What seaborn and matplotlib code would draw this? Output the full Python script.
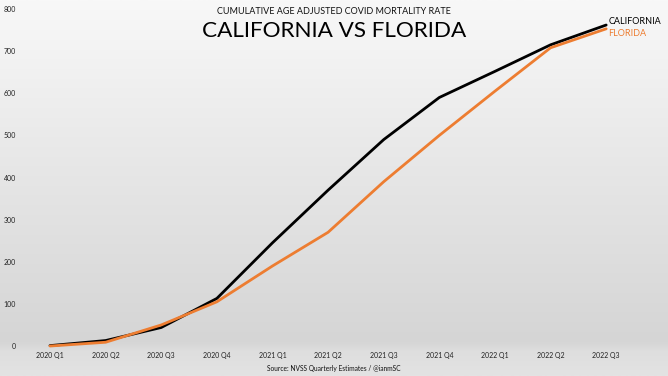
import numpy as np
import pandas as pd
import matplotlib
matplotlib.use("Agg")
import matplotlib.pyplot as plt
import seaborn as sns
from matplotlib.colors import LinearSegmentedColormap

quarters = ["2020 Q1", "2020 Q2", "2020 Q3", "2020 Q4", "2021 Q1", "2021 Q2",
            "2021 Q3", "2021 Q4", "2022 Q1", "2022 Q2", "2022 Q3"]
california = [1, 13, 44, 113, 245, 370, 490, 590, 652, 715, 762]
florida = [0, 9, 50, 105, 190, 270, 390, 500, 605, 708, 753]
y_ticks = [0, 100, 200, 300, 400, 500, 600, 700, 800]

df = pd.DataFrame({
    "q": list(range(len(quarters))) * 2,
    "rate": california + florida,
    "state": ["CALIFORNIA"] * len(quarters) + ["FLORIDA"] * len(quarters),
})

sns.set_theme(style="white")
plt.rcParams["font.family"] = ["Lato", "DejaVu Sans"]

W, H = 668, 376
fig = plt.figure(figsize=(W / 100, H / 100), dpi=100)

# background gradient
bg = fig.add_axes([0, 0, 1, 1], zorder=0)
cmap = LinearSegmentedColormap.from_list(
    "bg", [(0, "#f8f8f8"), (0.91, "#d5d5d5"), (0.935, "#dedede"), (1, "#e3e3e3")])
grad = np.linspace(0, 1, 256).reshape(-1, 1)
bg.imshow(grad, aspect="auto", cmap=cmap, extent=[0, 1, 0, 1], origin="upper")
bg.set_axis_off()

ax = fig.add_axes([29.8 / W, 1 - 349.4 / H, 609.2 / W, 344.6 / H], zorder=1)
ax.patch.set_alpha(0)
palette = {"CALIFORNIA": "#000000", "FLORIDA": "#ED7D31"}
sns.lineplot(data=df, x="q", y="rate", hue="state", palette=palette,
             linewidth=2.0, legend=False, ax=ax)
ax.set_xlim(-0.363, 10.59)
ax.set_ylim(-8, 810)
ax.set_xticks(range(len(quarters)))
ax.set_xticklabels(quarters, fontsize=5, color="#222222")
ax.set_yticks(y_ticks)
ax.set_yticklabels([str(v) for v in y_ticks], fontsize=5, color="#222222")
ax.tick_params(axis="y", length=0, pad=10)
ax.tick_params(axis="x", length=0, pad=2)
ax.set_xlabel("")
ax.set_ylabel("")
for s in ax.spines.values():
    s.set_visible(False)

ax.text(10.04, california[-1] + 8, "CALIFORNIA", fontsize=6.5, color="#000000",
        va="center", ha="left")
ax.text(10.04, florida[-1] - 12, "FLORIDA", fontsize=6.5, color="#ED7D31",
        va="center", ha="left")

fig.text(0.5, 1 - 12 / H, "CUMULATIVE AGE ADJUSTED COVID MORTALITY RATE",
         ha="center", va="center", fontsize=6.5, color="#111111")
fig.text(0.5, 1 - 31 / H, "CALIFORNIA VS FLORIDA", ha="center", va="center",
         fontsize=16.2, color="#000000")
fig.text(0.5, 1 - 369 / H, "Source: NVSS Quarterly Estimates / @ianmSC",
         ha="center", va="center", fontsize=4.8, color="#111111")

fig.savefig("out.png", dpi=100)
